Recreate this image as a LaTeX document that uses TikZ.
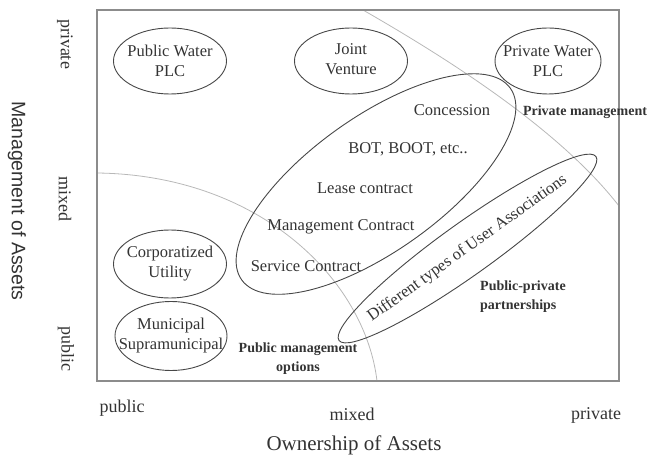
\documentclass[tikz,border=0pt]{standalone}
\usepackage{fontspec}
\setmainfont{Liberation Serif}
\newfontfamily\axisfont{Liberation Sans}
\definecolor{inkgray}{HTML}{333333}
\definecolor{linegray}{HTML}{474747}
\definecolor{framegray}{HTML}{8C8C8C}
\definecolor{zonegray}{HTML}{B8B8B8}
\begin{document}
\begin{tikzpicture}[x=1pt, y=1pt,
    lbl/.style={text=inkgray, font=\fontsize{16.5}{20}\selectfont, align=center, inner sep=0pt},
    tick/.style={text=inkgray, font=\fontsize{18}{20}\selectfont, inner sep=0pt},
    zone/.style={text=inkgray, font=\bfseries\fontsize{14}{18.5}\selectfont, inner sep=0pt},
    ring/.style={draw=linegray, line width=0.9pt},
    border/.style={draw=framegray, line width=1.1pt},
    divide/.style={draw=zonegray, line width=0.8pt}]
    \useasboundingbox (0,0) rectangle (663,455);

    % Region boundaries
    \draw[divide] (97,282) .. controls (260,280) and (365,175) .. (377,74);
    \draw[divide] (363,445) .. controls (450,395) and (560,325) .. (619,249);

    % Frame
    \draw[border] (97,74) rectangle (619,445);

    % Corner ovals
    \node[lbl] (pubplc) at (170,394) {Public Water\\PLC};
    \draw[ring] (pubplc.center) ellipse [x radius=56.5, y radius=33];
    \node[lbl] (joint) at (351,396) {Joint\\Venture};
    \draw[ring] (351,394) ellipse [x radius=56.5, y radius=33];
    \node[lbl] (privplc) at (548,394) {Private Water\\PLC};
    \draw[ring] (privplc.center) ellipse [x radius=53, y radius=33];
    \node[lbl] (corp) at (170,191) {Corporatized\\Utility};
    \draw[ring] (corp.center) ellipse [x radius=56.5, y radius=34];
    \node[lbl] (muni) at (171,119) {Municipal\\Supramunicipal};
    \draw[ring] (muni.center) ellipse [x radius=56, y radius=34.5];

    % Contract forms
    \coordinate (contracts) at (376,271);
    \draw[ring, rotate around={35.5:(contracts)}] (contracts) ellipse [x radius=165, y radius=67];
    \node[lbl] (concession) at (452,345) {Concession};
    \node[lbl] (bot) at (408,306) {BOT, BOOT, etc..};
    \node[lbl] (lease) at (365,267) {Lease contract};
    \node[lbl] (mgmt) at (341,228) {Management Contract};
    \node[lbl] (service) at (306,189) {Service Contract};

    % User associations
    \coordinate (users) at (467.5,206.5);
    \draw[ring, rotate around={35.6:(users)}] (users) ellipse [x radius=158, y radius=26];
    \node[lbl, rotate=35.6] (usertypes) at (users) {Different types of User Associations};

    % Zone names
    \node[zone] (privmgmt) at (585,343) {Private management};
    \node[zone, anchor=west, align=left] (ppp) at (480,158.5) {Public-private\\partnerships};
    \node[zone, align=center] (pubmgmt) at (298,96.5) {Public management\\options};

    % Axes
    \node[tick] (xpublic) at (122,47) {public};
    \node[tick] (xmixed) at (352,41) {mixed};
    \node[tick] (xprivate) at (596,40) {private};
    \node[text=inkgray, font=\fontsize{21}{24}\selectfont, inner sep=0pt] (xtitle) at (354,10) {Ownership of Assets};
    \node[tick, rotate=-90] (yprivate) at (65,411) {private};
    \node[tick, rotate=-90] (ymixed) at (65,256) {mixed};
    \node[tick, rotate=-90] (ypublic) at (66,106) {public};
    \node[text=inkgray, font=\axisfont\fontsize{19.5}{22}\selectfont, inner sep=0pt, rotate=-90] (ytitle) at (17,254) {Management of Assets};
\end{tikzpicture}
\end{document}
